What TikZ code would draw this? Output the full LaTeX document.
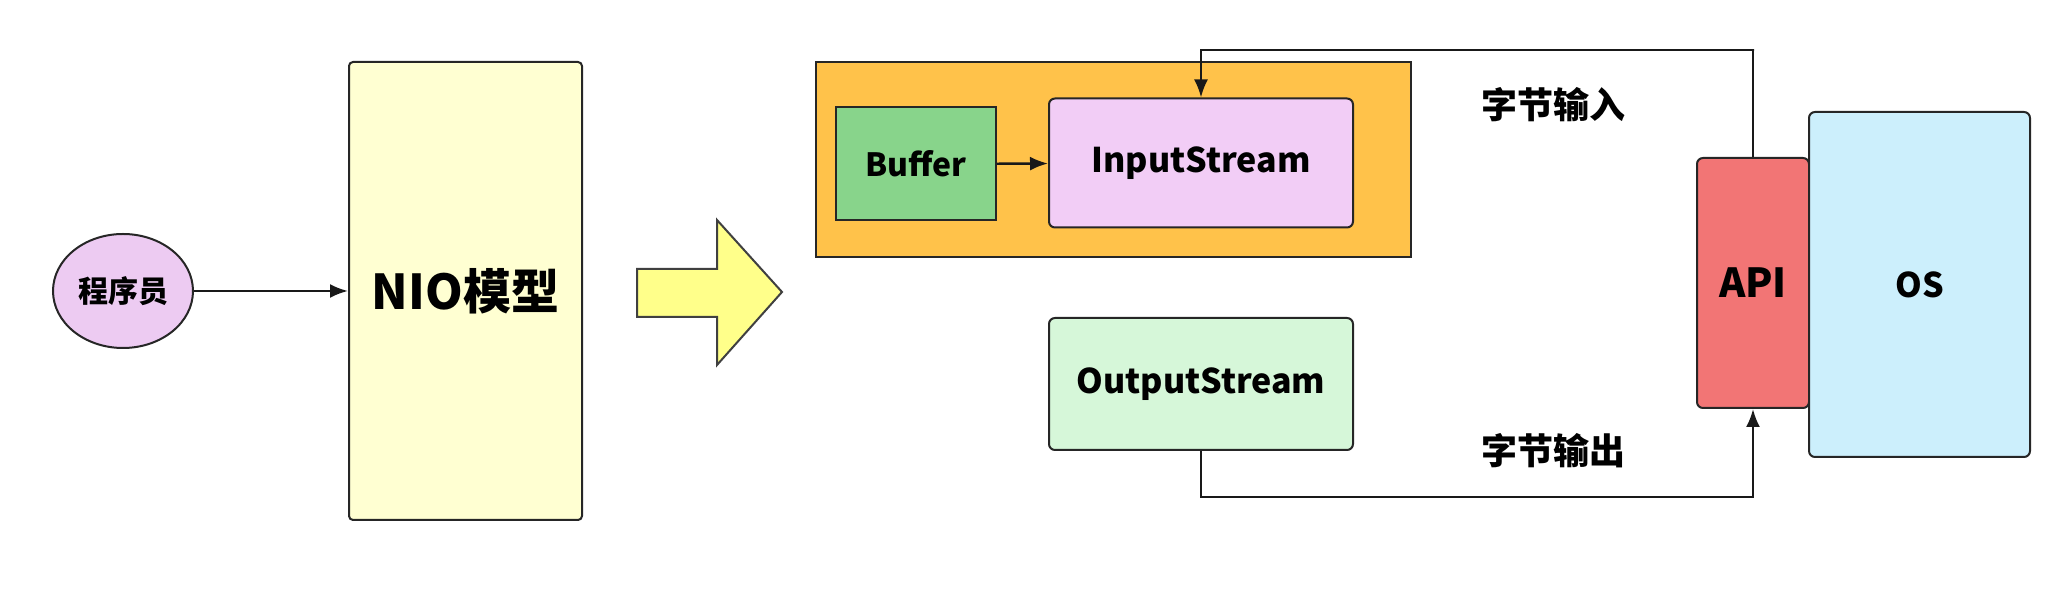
\documentclass[tikz,border=0pt]{standalone}
\usepackage{fontspec}
\setmainfont{Noto Sans CJK SC}
\usetikzlibrary{shapes.geometric,arrows.meta}
\definecolor{progfill}{HTML}{EDCBF2}
\definecolor{niofill}{HTML}{FFFFD2}
\definecolor{bigarrow}{HTML}{FFFF8A}
\definecolor{wrapfill}{HTML}{FFC24A}
\definecolor{buffill}{HTML}{88D48B}
\definecolor{infill}{HTML}{F2CDF6}
\definecolor{outfill}{HTML}{D6F7D9}
\definecolor{apifill}{HTML}{F27575}
\definecolor{osfill}{HTML}{CCEFFC}
\tikzset{
  block/.style={draw=black!85, line width=1pt, inner sep=0pt, font=\bfseries},
  link/.style={draw=black!90, line width=1.2pt, -{Latex[length=9pt,width=7pt]}}
}
\begin{document}
\begin{tikzpicture}[x=0.5pt,y=-0.5pt]
  \useasboundingbox (0,0) rectangle (2063,597);
  \node[block, ellipse, fill=progfill, minimum width=70pt, minimum height=57pt,
    font=\bfseries\fontsize{15}{18}\selectfont] (prog) at (123,291) {程序员};
  \node[block, rounded corners=2pt, fill=niofill, minimum width=116.5pt, minimum height=229pt,
    font=\bfseries\fontsize{24}{28}\selectfont] (nio) at (465.5,291) {NIO模型};
  \draw[fill=bigarrow, draw=black!75, line width=1pt]
    (637,269) -- (717,269) -- (717,220) -- (782,292) -- (717,365) -- (717,317) -- (637,317) -- cycle;
  \node[block, fill=wrapfill, minimum width=297.5pt, minimum height=97.5pt] (wrap) at (1113.5,159.5) {};
  \node[block, fill=buffill, minimum width=80pt, minimum height=56.5pt,
    font=\bfseries\fontsize{16}{19}\selectfont] (buf) at (916,164) {Buffer};
  \node[block, rounded corners=3pt, fill=infill, minimum width=152pt, minimum height=64.5pt,
    font=\bfseries\fontsize{17}{20}\selectfont] (in) at (1201,163) {InputStream};
  \node[block, rounded corners=3pt, fill=outfill, minimum width=152pt, minimum height=66pt,
    font=\bfseries\fontsize{17}{20}\selectfont] (out) at (1201,384) {OutputStream};
  \node[block, rounded corners=3pt, fill=apifill, minimum width=56pt, minimum height=125pt,
    font=\bfseries\fontsize{20}{24}\selectfont] (api) at (1753,283) {API};
  \node[block, rounded corners=3pt, fill=osfill, minimum width=110.5pt, minimum height=172.5pt,
    font=\bfseries\fontsize{17}{20}\selectfont] (os) at (1919.5,284.5) {OS};
  \node[font=\bfseries\fontsize{18}{22}\selectfont] (inlabel) at (1553,105) {字节输入};
  \node[font=\bfseries\fontsize{18}{22}\selectfont] (outlabel) at (1553,451) {字节输出};
  \coordinate (intop) at (1754,50);
  \coordinate (outbot) at (1201,497);
  \draw[link] (prog) -- (nio);
  \draw[link] (buf) -- (in);
  \draw[link] (api.north) |- (intop) -| (in.north);
  \draw[link] (out.south) |- (outbot) -| (api.south);
\end{tikzpicture}
\end{document}
